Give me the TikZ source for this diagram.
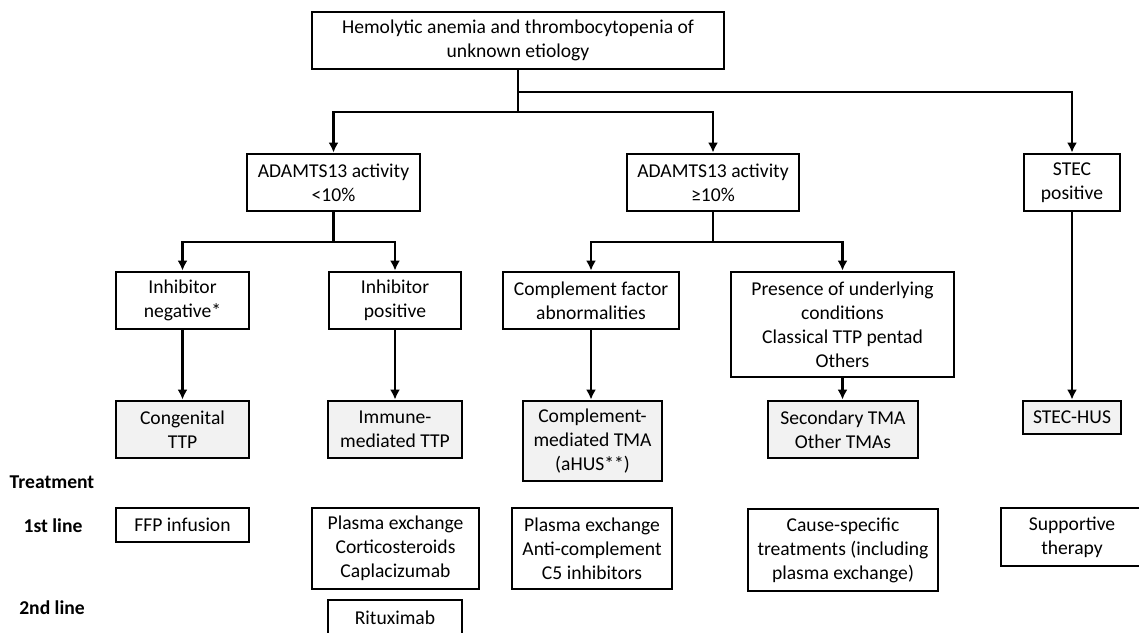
\documentclass[tikz,border=0pt]{standalone}
\usepackage{fontspec}
\setmainfont{Carlito}
\usepackage{tikz}
\usetikzlibrary{arrows.meta}
\definecolor{FlowLine}{HTML}{000000}
\definecolor{FlowResult}{HTML}{F2F2F2}

\begin{document}
\begin{tikzpicture}[x=1pt,y=-1pt,
    box/.style={draw=FlowLine,line width=2.8pt,align=center,inner sep=0pt,font=\fontsize{19.6}{24}\selectfont},
    result/.style={box,fill=FlowResult},
    rowlabel/.style={font=\fontsize{19.6}{22}\selectfont\bfseries},
    arr/.style={draw=FlowLine,line width=2.8pt,-{Latex[length=10pt,width=10pt]}},
    link/.style={draw=FlowLine,line width=2.8pt}]
    \useasboundingbox (0,0) rectangle (1139,632);
    % start
    \node[box,minimum width=412pt,minimum height=57pt] (start) at (518,40.5) {Hemolytic anemia and thrombocytopenia of\\unknown etiology};
    % first split
    \node[box,minimum width=173pt,minimum height=57pt] (low) at (333.5,182.5) {ADAMTS13 activity\\<10\%};
    \node[box,minimum width=172pt,minimum height=57pt] (high) at (713,182.5) {ADAMTS13 activity\\≥10\%};
    \node[box,minimum width=96pt,minimum height=57pt] (stec) at (1072,182.5) {STEC\\positive};
    % second split
    \node[box,minimum width=133pt,minimum height=57pt] (inhneg) at (182.5,300.5) {Inhibitor\\negative*};
    \node[box,minimum width=132pt,minimum height=57pt] (inhpos) at (395,300.5) {Inhibitor\\positive};
    \node[box,minimum width=176pt,minimum height=57pt] (cfab) at (591,300.5) {Complement factor\\abnormalities};
    \node[box,minimum width=223pt,minimum height=105pt] (under) at (842.5,324.5) {Presence of underlying\\conditions\\Classical TTP pentad\\Others};
    % diagnoses
    \node[result,minimum width=133pt,minimum height=57pt] (cttp) at (182.5,429.5) {Congenital\\TTP};
    \node[result,minimum width=134pt,minimum height=57pt] (ittp) at (395,429.5) {Immune-\\mediated TTP};
    \node[result,minimum width=139pt,minimum height=80pt] (ctma) at (592.5,441) {Complement-\\mediated TMA\\(aHUS**)};
    \node[result,minimum width=150pt,minimum height=57pt] (stma) at (843,429.5) {Secondary TMA\\Other TMAs};
    \node[result,minimum width=98pt,minimum height=33pt] (hus) at (1072,417.5) {STEC-HUS};
    % treatment
    \node[rowlabel] (treat) at (52,482) {Treatment};
    \node[rowlabel] (first) at (53,526) {1st line};
    \node[rowlabel] (second) at (52,608) {2nd line};
    \node[box,minimum width=133pt,minimum height=34pt] (ffp) at (182.5,525) {FFP infusion};
    \node[box,minimum width=167pt,minimum height=81pt] (pex) at (395.5,548.5) {Plasma exchange\\Corticosteroids\\Caplacizumab};
    \node[box,minimum width=134pt,minimum height=36pt] (ritux) at (395,618) {Rituximab};
    \node[box,minimum width=160pt,minimum height=81pt] (pexc) at (592,548.5) {Plasma exchange\\Anti-complement\\C5 inhibitors};
    \node[box,minimum width=190pt,minimum height=82pt] (cause) at (843,550) {Cause-specific\\treatments (including\\plasma exchange)};
    \node[box,minimum width=142pt,minimum height=58pt] (supp) at (1072,537) {Supportive\\therapy};
    % connectors
    \coordinate (jstec) at (518,92);
    \coordinate (jadam) at (518,112);
    \coordinate (jlow) at (333.5,242);
    \coordinate (jhigh) at (713,242);
    \draw[link] (start.south) -- (jadam);
    \draw[arr] (jadam) -| (low.north);
    \draw[arr] (jadam) -| (high.north);
    \draw[arr] (jstec) -| (stec.north);
    \draw[link] (low.south) -- (jlow);
    \draw[arr] (jlow) -| (inhneg.north);
    \draw[arr] (jlow) -| (inhpos.north);
    \draw[link] (high.south) -- (jhigh);
    \draw[arr] (jhigh) -| (cfab.north);
    \draw[arr] (jhigh) -| (under.north);
    \draw[arr] (inhneg) -- (cttp);
    \draw[arr] (inhpos) -- (ittp);
    \draw[arr] (cfab.south) -- (cfab.south |- ctma.north);
    \draw[arr] (under.south) -- (under.south |- stma.north);
    \draw[arr] (stec) -- (hus);
\end{tikzpicture}
\end{document}
